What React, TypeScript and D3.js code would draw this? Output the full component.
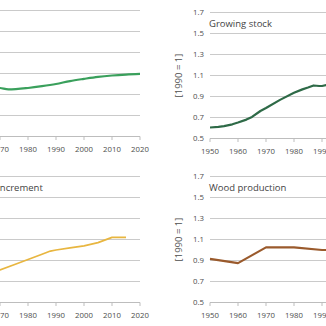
import React from "react";
import * as d3 from "d3";

// Forest area index (1990 = 1)
const forestYears = [1965, 1968, 1970, 1973, 1980, 1985, 1990, 1995, 2000, 2005, 2010, 2015, 2020];
const forestValues = [0.955, 0.965, 0.962, 0.948, 0.962, 0.979, 1.0, 1.028, 1.049, 1.068, 1.081, 1.09, 1.096];

// Growing stock index
const stockYears = [1950, 1953, 1955, 1958, 1960, 1963, 1965, 1968, 1970, 1975, 1980, 1983, 1985, 1987, 1989, 1990, 1992, 1995];
const stockValues = [0.605, 0.61, 0.618, 0.635, 0.652, 0.68, 0.705, 0.762, 0.79, 0.868, 0.935, 0.968, 0.985, 1.005, 1.0, 1.0, 1.012, 1.02];

// Increment index
const incrementYears = [1965, 1970, 1975, 1980, 1985, 1988, 1990, 1995, 2000, 2005, 2010, 2015];
const incrementValues = [0.76, 0.81, 0.86, 0.91, 0.96, 0.99, 1.0, 1.02, 1.04, 1.07, 1.12, 1.12];

// Wood production index
const woodYears = [1950, 1960, 1970, 1980, 1990, 2000];
const woodValues = [0.915, 0.875, 1.025, 1.025, 1.0, 1.0];

const yTicks = [0.5, 0.7, 0.9, 1.1, 1.3, 1.5, 1.7];
const xTicks = [1950, 1960, 1970, 1980, 1990, 2000, 2010, 2020];
const yAxisTitle = "[1990 = 1]";

const FONT = "'Open Sans', sans-serif";
const VIEW = 326;

type PanelProps = {
  x1950: number;
  top: number;
  bottom: number;
  years: number[];
  values: number[];
  color: string;
  width: number;
  title?: string;
  titleX?: number;
  showYAxis: boolean;
  curve?: d3.CurveFactory;
};

function Panel({ x1950, top, bottom, years, values, color, width, title, titleX, showYAxis, curve }: PanelProps) {
  const x = d3.scaleLinear().domain([1950, 2020]).range([x1950, x1950 + 196]);
  const y = d3.scaleLinear().domain([0.5, 1.7]).range([bottom, top]);
  const data = years.map((yr, i) => [yr, values[i]] as [number, number]);
  const line = d3
    .line<[number, number]>()
    .x((d) => x(d[0]))
    .y((d) => y(d[1]))
    .curve(curve ?? d3.curveLinear);
  const fmt = d3.format(".1f");
  const [xa, xb] = x.range();
  // only ticks whose labels reach into the drawing area
  const shownTicks = xTicks.filter((t) => x(t) > -10 && x(t) < VIEW + 10);
  return (
    <g>
      {yTicks.slice(1).map((t) => (
        <line key={t} x1={xa} x2={xb} y1={y(t)} y2={y(t)} stroke="#cacaca" strokeWidth={1} />
      ))}
      <line x1={xa} x2={xb} y1={y(0.5)} y2={y(0.5)} stroke="#bdbdbd" strokeWidth={1} />
      {shownTicks.map((t) => (
        <g key={t}>
          <line x1={x(t)} x2={x(t)} y1={y(0.5)} y2={y(0.5) + 3.5} stroke="#bdbdbd" strokeWidth={1} />
          <text x={x(t)} y={y(0.5) + 15} textAnchor="middle" fontSize={7.8} fill="#4d4d4d" fontFamily={FONT}>
            {t}
          </text>
        </g>
      ))}
      {showYAxis &&
        yTicks.map((t) => (
          <text key={t} x={xa - 6} y={y(t)} dy="0.35em" textAnchor="end" fontSize={7.8} fill="#4d4d4d" fontFamily={FONT}>
            {fmt(t)}
          </text>
        ))}
      {showYAxis && (
        <text
          transform={`translate(${xa - 31},${(top + bottom) / 2}) rotate(-90)`}
          textAnchor="middle"
          dy="0.35em"
          fontSize={9.5}
          fill="#4d4d4d"
          fontFamily={FONT}
        >
          {yAxisTitle}
        </text>
      )}
      {title && (
        <text x={titleX ?? xa} y={top + 14} fontSize={9.5} fill="#444" fontFamily={FONT}>
          {title}
        </text>
      )}
      <path d={line(data) ?? ""} fill="none" stroke={color} strokeWidth={width} strokeLinejoin="round" />
    </g>
  );
}

export default function App() {
  return (
    <svg
      width={VIEW}
      height={VIEW}
      style={{ position: "absolute", left: 0, top: 0, background: "#fff" }}
    >
      <rect width={VIEW} height={VIEW} fill="#fff" />
      <Panel x1950={-56} top={10.5} bottom={136.5} years={forestYears} values={forestValues} color="#3aa05c" width={2.2} showYAxis={false} curve={d3.curveMonotoneX} />
      <Panel x1950={210} top={12.5} bottom={138.5} years={stockYears} values={stockValues} color="#2e6a47" width={2.2} title="Growing stock" titleX={209} showYAxis={true} />
      <Panel x1950={-56} top={176.5} bottom={302.5} years={incrementYears} values={incrementValues} color="#e8b640" width={1.7} title="Increment" titleX={-2.8} showYAxis={false} />
      <Panel x1950={210} top={176.5} bottom={302.5} years={woodYears} values={woodValues} color="#9a5a2c" width={2.2} title="Wood production" titleX={209} showYAxis={true} />
    </svg>
  );
}
